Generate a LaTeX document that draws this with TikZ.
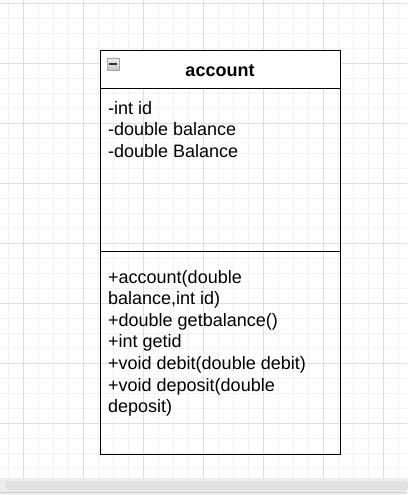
\documentclass[tikz,border=0pt]{standalone}
\usepackage{fontspec}
\setmainfont{Liberation Sans}
\definecolor{gridminor}{HTML}{F2F2F2}
\definecolor{gridmajor}{HTML}{DEDEDE}
\definecolor{scrollbg}{HTML}{EDEDED}
\definecolor{scrollbar}{HTML}{E2E2E2}
\definecolor{scrollline}{HTML}{D0D0D0}
\tikzset{
  umlbox/.style={draw=black, line width=1.4pt, anchor=north west, inner sep=0pt},
  umltext/.style={anchor=base west, align=left, inner sep=0pt,
    font=\fontsize{18}{21.6}\selectfont},
  umltitle/.style={anchor=base, inner sep=0pt, font=\fontsize{18}{21.6}\selectfont\bfseries},
}
\begin{document}
\begin{tikzpicture}[x=1pt,y=-1pt]
\useasboundingbox (0,0) rectangle (407,495);
\fill[white] (0,0) rectangle (407,495);
% grid
\foreach \i in {0,...,26} {
  \draw[gridminor, line width=1pt] ({8+15*\i},0) -- ({8+15*\i},478);
}
\foreach \j in {0,...,31} {
  \draw[gridminor, line width=1pt] (0,{3.5+15*\j}) -- (407,{3.5+15*\j});
}
\foreach \i in {0,...,6} {
  \draw[gridmajor, line width=1pt] ({23+60*\i},0) -- ({23+60*\i},478);
}
\foreach \j in {0,...,7} {
  \draw[gridmajor, line width=1pt] (0,{3.5+60*\j}) -- (407,{3.5+60*\j});
}
% scrollbar
\fill[scrollbg] (0,478) rectangle (407,495);
\fill[scrollbar, rounded corners=3pt] (5,481) rectangle (410,490);
\draw[scrollline, line width=1pt] (0,492.5) -- (407,492.5);
% class box
\node[umlbox, fill=white, minimum width=240, minimum height=38] (hdr) at (100,50) {};
\node[umlbox, minimum width=240, minimum height=163] (attrs) at (100,88) {};
\node[umlbox, minimum width=240, minimum height=203] (meths) at (100,251) {};
% collapse icon
\node[draw=gray!70, top color=gray!12, bottom color=gray!45, minimum width=12, minimum height=12, inner sep=0pt, line width=0.8pt] (icon) at (113,64) {};
\draw[black!80, line width=1.6pt] ([xshift=2.5pt]icon.west) -- ([xshift=-2.5pt]icon.east);
% texts (base anchor = baseline of last line)
\node[umltitle] (title) at (220,76) {account};
\node[umltext] (attrtext) at (108,157.2) {-int id\\-double balance\\-double Balance};
\node[umltext] (methtext) at (108,412.6) {+account(double\\balance,int id)\\+double getbalance()\\+int getid\\+void debit(double debit)\\+void deposit(double\\deposit)};
\end{tikzpicture}
\end{document}
